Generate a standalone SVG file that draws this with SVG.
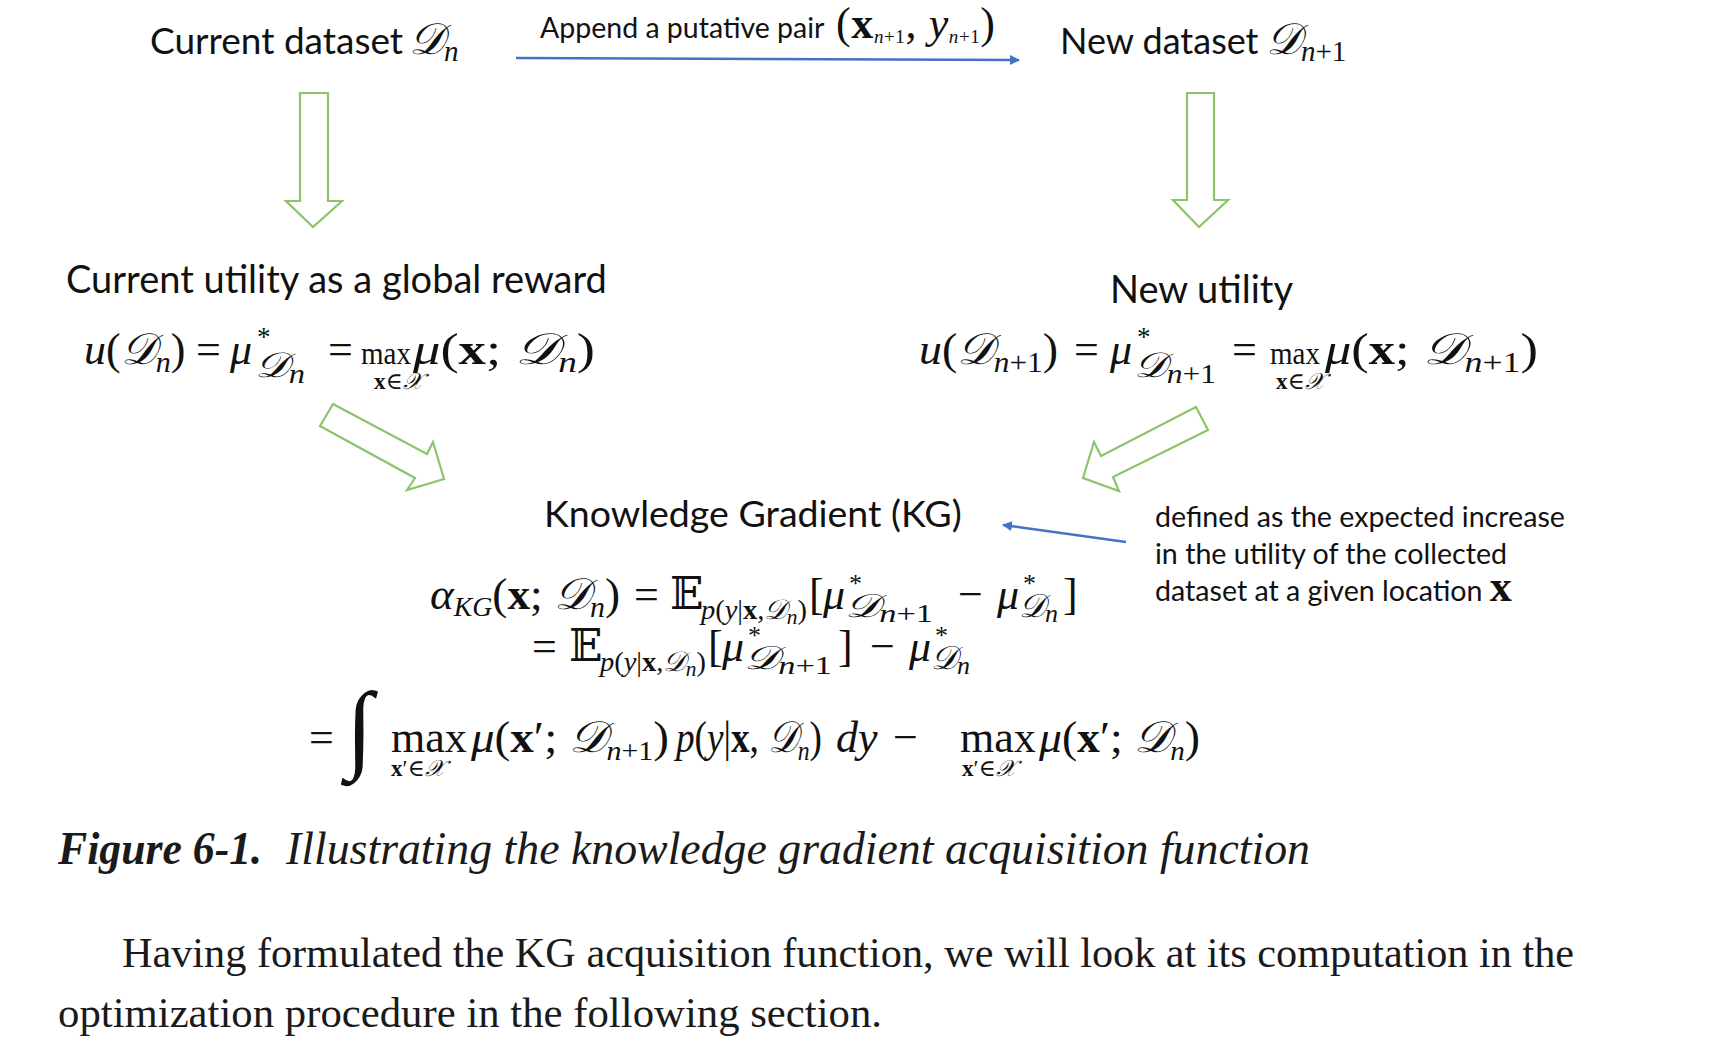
<svg xmlns="http://www.w3.org/2000/svg" width="1714" height="1058" viewBox="0 0 1714 1058">
<style>
.lab{font-family:"Lato","Open Sans",sans-serif;fill:#111}
.m{font-family:"Liberation Serif","DejaVu Serif",serif;font-size:44px;fill:#111}
.i{font-style:italic}
.b{font-weight:bold;font-style:normal}
.s{font-family:"DejaVu Serif","DejaVu Sans","Noto Sans",serif;font-style:italic}
.cap{font-family:"Liberation Serif",serif;fill:#1a1a1a}
.garrow{fill:#fff;stroke:#8cc46c;stroke-width:2.2;stroke-linejoin:miter}
.blue{stroke:#4472c4;stroke-width:2.5;fill:none}
</style>
<defs>
<marker id="ah" viewBox="0 0 10 10" refX="9" refY="5" markerWidth="4" markerHeight="4" orient="auto">
<path d="M0,0 L10,5 L0,10 z" fill="#4472c4"/>
</marker>
</defs>
<rect width="1714" height="1058" fill="#fff"/>

<g id="node-current-dataset">
<text x="150" y="54" class="lab" font-size="37">Current dataset</text>
<text x="409" y="54" class="m" font-size="38"><tspan class="s">𝒟</tspan><tspan class="i" font-size="29" dy="7">n</tspan></text>
</g>
<g id="node-new-dataset">
<text x="1060" y="54" class="lab" font-size="36">New dataset</text>
<text x="1266" y="54" class="m" font-size="38"><tspan class="s">𝒟</tspan><tspan class="i" font-size="29" dy="7">n</tspan><tspan font-size="29">+1</tspan></text>
</g>

<g id="node-append-label">
<text x="540" y="38" class="lab" font-size="28.5">Append a putative pair</text>
<text x="836" y="38" class="m" font-size="26" textLength="159"><tspan>(</tspan><tspan class="b">x</tspan><tspan class="i" font-size="19" dy="5">n</tspan><tspan font-size="19">+1</tspan><tspan dy="-5">, </tspan><tspan class="i">y</tspan><tspan class="i" font-size="19" dy="5">n</tspan><tspan font-size="19">+1</tspan><tspan dy="-5">)</tspan></text>
</g>

<g id="node-current-utility">
<text x="66" y="293" class="lab" font-size="38">Current utility as a global reward</text>
<g class="m">
<text x="84" y="364"><tspan class="i">u</tspan>(<tspan class="s">𝒟</tspan><tspan class="i" font-size="30" dy="8">n</tspan><tspan dy="-8">)</tspan></text>
<text x="196" y="364">=</text>
<text x="230" y="364" class="i">μ</text>
<text x="257" y="346" font-size="27">*</text>
<text x="255" y="377" font-size="35" textLength="50" lengthAdjust="spacingAndGlyphs"><tspan class="s">𝒟</tspan><tspan class="i" font-size="27" dy="6">n</tspan></text>
<text x="328" y="364">=</text>
<text x="361" y="364" font-size="32" textLength="50" lengthAdjust="spacingAndGlyphs">max</text>
<text x="374" y="389" font-size="23"><tspan class="b">x</tspan>∈<tspan class="s">𝒳</tspan></text>
<text x="413" y="364" textLength="182" lengthAdjust="spacingAndGlyphs"><tspan class="i">μ</tspan>(<tspan class="b">x</tspan>; <tspan class="s">𝒟</tspan><tspan class="i" font-size="30" dy="8">n</tspan><tspan dy="-8">)</tspan></text>
</g>
</g>

<g id="node-new-utility">
<text x="1110" y="303" class="lab" font-size="38">New utility</text>
<g class="m">
<text x="919" y="364" textLength="139" lengthAdjust="spacingAndGlyphs"><tspan class="i">u</tspan>(<tspan class="s">𝒟</tspan><tspan class="i" font-size="30" dy="8">n</tspan><tspan font-size="30">+1</tspan><tspan dy="-8">)</tspan></text>
<text x="1074" y="364">=</text>
<text x="1110" y="364" class="i">μ</text>
<text x="1137" y="346" font-size="27">*</text>
<text x="1134" y="377" font-size="35" textLength="82" lengthAdjust="spacingAndGlyphs"><tspan class="s">𝒟</tspan><tspan class="i" font-size="27" dy="6">n</tspan><tspan font-size="27">+1</tspan></text>
<text x="1232" y="364">=</text>
<text x="1270" y="364" font-size="32" textLength="50" lengthAdjust="spacingAndGlyphs">max</text>
<text x="1276" y="389" font-size="23"><tspan class="b">x</tspan>∈<tspan class="s">𝒳</tspan></text>
<text x="1325" y="364" textLength="213" lengthAdjust="spacingAndGlyphs"><tspan class="i">μ</tspan>(<tspan class="b">x</tspan>; <tspan class="s">𝒟</tspan><tspan class="i" font-size="30" dy="8">n</tspan><tspan font-size="30">+1</tspan><tspan dy="-8">)</tspan></text>
</g>
</g>

<g id="node-kg">
<text x="544" y="527" class="lab" font-size="37.5">Knowledge Gradient (KG)</text>
<g class="m" font-size="42">
<text x="430" y="609" textLength="190" lengthAdjust="spacingAndGlyphs"><tspan class="i">α</tspan><tspan class="i" font-size="27" dy="7">KG</tspan><tspan dy="-7">(</tspan><tspan class="b">x</tspan>; <tspan class="s">𝒟</tspan><tspan class="i" font-size="29" dy="8">n</tspan><tspan dy="-8">)</tspan></text>
<text x="634" y="609">=</text>
<text x="670" y="609">𝔼</text>
<text x="701" y="619" font-size="28" textLength="106" lengthAdjust="spacingAndGlyphs"><tspan class="i">p</tspan>(<tspan class="i">y</tspan>|<tspan class="b">x</tspan>,<tspan class="s">𝒟</tspan><tspan class="i" font-size="21" dy="5">n</tspan><tspan dy="-5">)</tspan></text>
<text x="809" y="609">[</text>
<text x="823" y="609" class="i">μ</text>
<text x="849" y="592" font-size="26">*</text>
<text x="845" y="617" font-size="33" textLength="88" lengthAdjust="spacingAndGlyphs"><tspan class="s">𝒟</tspan><tspan class="i" font-size="26" dy="5">n</tspan><tspan font-size="26">+1</tspan></text>
<text x="958" y="609">−</text>
<text x="997" y="609" class="i">μ</text>
<text x="1023" y="592" font-size="26">*</text>
<text x="1019" y="617" font-size="33"><tspan class="s">𝒟</tspan><tspan class="i" font-size="26" dy="5">n</tspan></text>
<text x="1063" y="609">]</text>

<text x="532" y="661">=</text>
<text x="569" y="661">𝔼</text>
<text x="600" y="671" font-size="28" textLength="106" lengthAdjust="spacingAndGlyphs"><tspan class="i">p</tspan>(<tspan class="i">y</tspan>|<tspan class="b">x</tspan>,<tspan class="s">𝒟</tspan><tspan class="i" font-size="21" dy="5">n</tspan><tspan dy="-5">)</tspan></text>
<text x="708" y="661">[</text>
<text x="722" y="661" class="i">μ</text>
<text x="748" y="644" font-size="26">*</text>
<text x="744" y="669" font-size="33" textLength="88" lengthAdjust="spacingAndGlyphs"><tspan class="s">𝒟</tspan><tspan class="i" font-size="26" dy="5">n</tspan><tspan font-size="26">+1</tspan></text>
<text x="838" y="661">]</text>
<text x="870" y="661">−</text>
<text x="909" y="661" class="i">μ</text>
<text x="935" y="644" font-size="26">*</text>
<text x="931" y="669" font-size="33"><tspan class="s">𝒟</tspan><tspan class="i" font-size="26" dy="5">n</tspan></text>
</g>
<g class="m" font-size="40">
<text x="309" y="752">=</text>
<text x="346" y="760" font-size="98" class="i">∫</text>
<text x="391" y="752">max</text>
<text x="391" y="776" font-size="23"><tspan class="b">x</tspan>′∈<tspan class="s">𝒳</tspan></text>
<text x="471" y="752" textLength="198" lengthAdjust="spacingAndGlyphs"><tspan class="i">μ</tspan>(<tspan class="b">x</tspan>′; <tspan class="s">𝒟</tspan><tspan class="i" font-size="28" dy="8">n</tspan><tspan font-size="28">+1</tspan><tspan dy="-8">)</tspan></text>
<text x="676" y="752" textLength="146" lengthAdjust="spacingAndGlyphs"><tspan class="i">p</tspan>(<tspan class="i">y</tspan>|<tspan class="b">x</tspan>, <tspan class="s">𝒟</tspan><tspan class="i" font-size="28" dy="8">n</tspan><tspan dy="-8">)</tspan></text>
<text x="836" y="752" class="i">dy</text>
<text x="893" y="752">−</text>
<text x="960" y="752">max</text>
<text x="962" y="776" font-size="23"><tspan class="b">x</tspan>′∈<tspan class="s">𝒳</tspan></text>
<text x="1039" y="752" textLength="161" lengthAdjust="spacingAndGlyphs"><tspan class="i">μ</tspan>(<tspan class="b">x</tspan>′; <tspan class="s">𝒟</tspan><tspan class="i" font-size="28" dy="8">n</tspan><tspan dy="-8">)</tspan></text>
</g>
</g>

<g id="node-kg-note">
<text class="lab" font-size="28.6"><tspan x="1155" y="527">defined as the expected increase</tspan><tspan x="1155" y="564">in the utility of the collected</tspan><tspan x="1155" y="601">dataset at a given location <tspan class="m b" font-size="30">x</tspan></tspan></text>
</g>

<g id="connectors">
<polygon class="garrow" points="300,93 328,93 328,201 342,201 313,227 286,201 300,201"/>
<polygon class="garrow" points="1187,93 1214,93 1214,200 1228,200 1199,227 1173,200 1187,200"/>
<polygon class="garrow" points="333,404 320,426 415,478 407,490 444,479 433,442 427,454"/>
<polygon class="garrow" points="1196,407 1208,430 1113,477 1119,491 1083,478 1094,442 1101,456"/>
<line class="blue" x1="516" y1="58" x2="1019" y2="60" marker-end="url(#ah)"/>
<line class="blue" x1="1126" y1="542" x2="1003" y2="525" marker-end="url(#ah)"/>
</g>

<g id="caption">
<text x="58" y="864" class="cap" font-size="46" font-weight="bold" font-style="italic" textLength="204" lengthAdjust="spacingAndGlyphs">Figure 6-1.</text>
<text x="286" y="864" class="cap" font-size="46" font-style="italic" textLength="1024" lengthAdjust="spacingAndGlyphs">Illustrating the knowledge gradient acquisition function</text>
<text x="122" y="967" class="cap" font-size="42" textLength="1452" lengthAdjust="spacingAndGlyphs">Having formulated the KG acquisition function, we will look at its computation in the</text>
<text x="58" y="1027" class="cap" font-size="42" textLength="824" lengthAdjust="spacingAndGlyphs">optimization procedure in the following section.</text>
</g>
</svg>
